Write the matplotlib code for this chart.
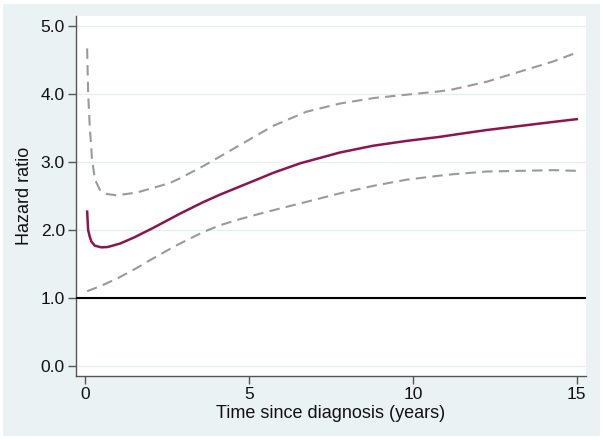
import matplotlib
matplotlib.use('Agg')
import matplotlib.pyplot as plt
from matplotlib.patches import Rectangle

plt.rcParams['font.family'] = ['Liberation Sans', 'DejaVu Sans']

# values
t_upper = [0.07, 0.10, 0.15, 0.22, 0.31, 0.46, 0.66, 0.97, 1.58, 2.59, 2.9, 3.61,
           4.12, 4.73, 5.34, 5.74, 6.56, 6.76, 7.78, 8.8, 9.81, 10.22, 10.83,
           11.24, 12.25, 13.27, 14.29, 15.0]
hr_upper = [4.67, 4.01, 3.52, 3.03, 2.74, 2.59, 2.53, 2.51, 2.55, 2.69, 2.76, 2.94,
            3.08, 3.25, 3.42, 3.53, 3.70, 3.74, 3.86, 3.94, 3.99, 4.01, 4.04,
            4.07, 4.18, 4.33, 4.48, 4.61]

t_hr = [0.07, 0.10, 0.15, 0.2, 0.3, 0.5, 0.7, 1.07, 1.5, 2.08, 2.9, 3.61, 4.12,
        4.73, 5.34, 5.74, 6.56, 7.78, 8.8, 9.81, 10.83, 11.24, 12.25, 13.27,
        14.29, 15.0]
hr = [2.27, 2.00, 1.90, 1.83, 1.77, 1.745, 1.75, 1.80, 1.89, 2.03, 2.24, 2.41,
      2.52, 2.64, 2.76, 2.84, 2.98, 3.14, 3.24, 3.31, 3.37, 3.40, 3.47, 3.53,
      3.59, 3.63]

t_lower = [0.07, 0.5, 1.0, 1.58, 2.0, 2.59, 2.9, 3.61, 4.12, 4.73, 5.34, 5.74,
           6.56, 7.78, 8.8, 9.81, 10.83, 11.24, 12.25, 13.27, 14.29, 15.0]
hr_lower = [1.10, 1.18, 1.29, 1.44, 1.56, 1.72, 1.80, 1.97, 2.07, 2.16, 2.24, 2.29,
            2.39, 2.54, 2.65, 2.74, 2.80, 2.82, 2.86, 2.87, 2.88, 2.87]

x_ticks = [0, 5, 10, 15]
y_ticks = [0.0, 1.0, 2.0, 3.0, 4.0, 5.0]

bg = '#EAF2F3'
fig = plt.figure(figsize=(6.03, 4.40), dpi=100)
fig.patch.set_facecolor('white')
# stata-like outer background panel
fig.patches.append(Rectangle((3 / 603, 4 / 440), 597 / 603, 432 / 440,
                             transform=fig.transFigure, facecolor=bg,
                             edgecolor='none', zorder=-5))

ax = fig.add_axes([76 / 603, 64 / 440, 510 / 603, 360 / 440])
ax.set_facecolor('white')

for y in y_ticks:
    ax.axhline(y, color='#E3EEEF', lw=0.9, zorder=1)
ax.axhline(1.0, color='black', lw=1.5, zorder=3)

ax.plot(t_upper, hr_upper, color='#9A9A9A', lw=1.5, ls=(0, (5, 3)), zorder=4)
ax.plot(t_lower, hr_lower, color='#9A9A9A', lw=1.5, ls=(0, (5, 3)), zorder=4)
ax.plot(t_hr, hr, color='#8C1550', lw=1.8, zorder=5,
        solid_joinstyle='round')

ax.set_xlim(-0.27, 15.28)
ax.set_ylim(-0.147, 5.147)
ax.set_xticks(x_ticks)
ax.set_yticks(y_ticks)
ax.set_yticklabels(['%.1f' % v for v in y_ticks])

for s in ['top', 'right']:
    ax.spines[s].set_visible(False)
for s in ['left', 'bottom']:
    ax.spines[s].set_color('#555555')
    ax.spines[s].set_linewidth(1.0)
ax.tick_params(axis='both', length=6, width=1.0, color='#555555',
               labelsize=12.5, labelcolor='#111111', pad=2)

ax.set_xlabel('Time since diagnosis (years)', fontsize=13, color='#111111', labelpad=2)
ax.set_ylabel('Hazard ratio', fontsize=13, color='#111111')
ax.yaxis.set_label_coords(-0.084, 0.5)

fig.savefig('out.png', dpi=100, facecolor=fig.get_facecolor())
